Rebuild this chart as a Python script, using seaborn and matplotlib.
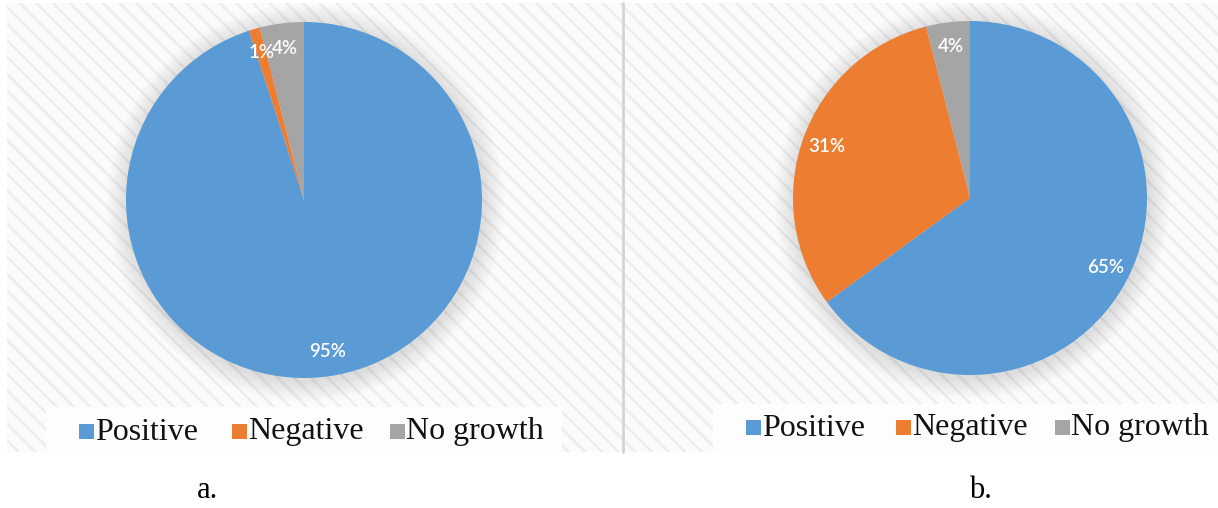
import matplotlib
matplotlib.use("Agg")
import matplotlib.pyplot as plt
from matplotlib.patches import Rectangle, Circle
import seaborn as sns

# Data
categories = ["Positive", "Negative", "No growth"]
values_a = [95, 1, 4]
values_b = [65, 31, 4]
panel_labels = ["a.", "b."]

sns.set_style("white")
plt.rcParams["hatch.linewidth"] = 1.8
palette = sns.color_palette(["#5B9BD5", "#ED7D31", "#A5A5A5"])

W, H = 1218, 508
fig = plt.figure(figsize=(W / 100, H / 100), dpi=100)
fig.patch.set_facecolor("white")


def px_axes(x0, y0, x1, y1, **kw):
    """Axes from pixel box given with a top-left origin."""
    return fig.add_axes([x0 / W, 1 - y1 / H, (x1 - x0) / W, (y1 - y0) / H], **kw)


# Striped backdrop
bg = px_axes(0, 0, W, H)
bg.set_xlim(0, W)
bg.set_ylim(H, 0)
bg.axis("off")
bg.add_patch(Rectangle((7, 3), W - 7, 449, facecolor="#fbfbfb",
                       edgecolor="#ededed", hatch="\\\\", linewidth=0))
# legend boxes
bg.add_patch(Rectangle((46, 407), 516, 45, facecolor="#fdfdfd", linewidth=0))
bg.add_patch(Rectangle((713, 404), W - 713, 48, facecolor="#fdfdfd", linewidth=0))
# divider
bg.plot([623, 623], [3, 452], color="#d4d4d4", lw=2)


def draw_pie(values, cx, cy, r, pctd):
    pad = 1.25
    ax = px_axes(cx - r * pad, cy - r * pad, cx + r * pad, cy + r * pad)
    ax.axis("off")
    # soft shadow
    for i in range(30):
        rr = 1.0 + 0.004 * (i + 1)
        ax.add_patch(Circle((0.01, -0.015), rr, facecolor="#000000",
                            alpha=0.0045, linewidth=0, zorder=0))
    wedges, texts, autotexts = ax.pie(
        values, colors=palette, startangle=90, counterclock=False,
        autopct="%1.0f%%", pctdistance=pctd,
        wedgeprops=dict(linewidth=0, zorder=2),
        textprops=dict(color="white", fontsize=13.5, family="Lato",
                       fontweight="semibold"))
    for t in autotexts:
        t.set_zorder(5)
    ax.set_xlim(-pad, pad)
    ax.set_ylim(-pad, pad)
    ax.set_aspect("equal")
    return ax, autotexts


ax_a, at_a = draw_pie(values_a, 304, 200, 178, 0.86)
ax_b, at_b = draw_pie(values_b, 970, 198, 177, 0.86)


def legend(x_start, y, gaps):
    x = x_start
    for cat, col, gap in zip(categories, palette, gaps):
        bg.add_patch(Rectangle((x, y - 7.5), 15, 15, facecolor=col, linewidth=0))
        bg.text(x + 16, y + 1, cat, fontsize=23, family="Liberation Serif",
                color="#111111", va="center", ha="left")
        x += gap


legend(79, 431, [153, 158, 0])
legend(746, 427, [150, 159, 0])

bg.text(208, 490, panel_labels[0], fontsize=22, family="Liberation Serif",
        ha="center", va="center", color="black")
bg.text(980, 490, panel_labels[1], fontsize=22, family="Liberation Serif",
        ha="center", va="center", color="black")

fig.savefig("out.png", dpi=100, facecolor="white")
